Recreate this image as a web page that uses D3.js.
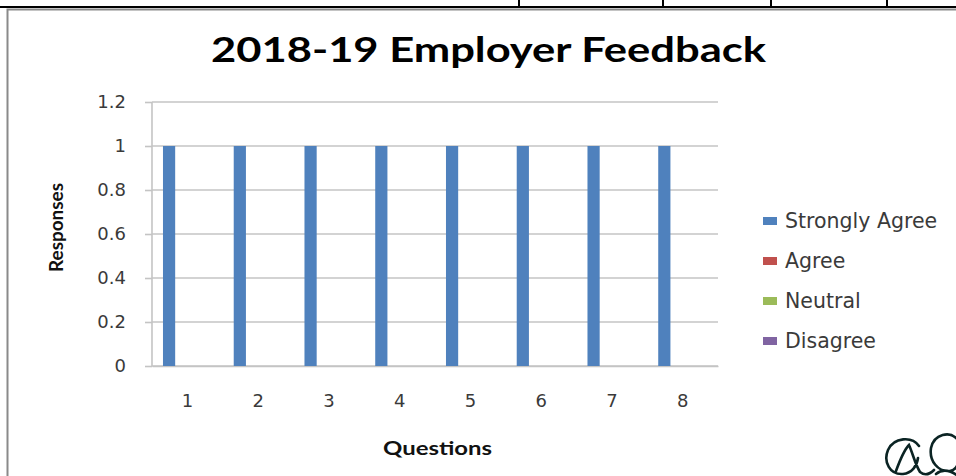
<!DOCTYPE html>
<html>
<head>
<meta charset="utf-8">
<script src="https://cdn.jsdelivr.net/npm/d3@7"></script>
<style>
  html, body { margin: 0; padding: 0; background: #fff; }
  svg { display: block; }
</style>
</head>
<body>
<svg id="chart" width="956" height="476"></svg>
<script>
// Survey results per question
const questions = ["1", "2", "3", "4", "5", "6", "7", "8"];
const seriesNames = ["Strongly Agree", "Agree", "Neutral", "Disagree"];
const seriesColors = ["#4f81bd", "#c0504d", "#9bbb59", "#8064a2"];
const stronglyAgree = [1, 1, 1, 1, 1, 1, 1, 1];
const agree = [0, 0, 0, 0, 0, 0, 0, 0];
const neutral = [0, 0, 0, 0, 0, 0, 0, 0];
const disagree = [0, 0, 0, 0, 0, 0, 0, 0];
const yTicks = [0, 0.2, 0.4, 0.6, 0.8, 1, 1.2];
const titleText = "2018-19 Employer Feedback";
const xTitle = "Questions";
const yTitle = "Responses";

const seriesValues = [stronglyAgree, agree, neutral, disagree];
const rows = questions.map((q, i) => ({
  q,
  values: seriesNames.map((s, j) => ({ s, v: seriesValues[j][i], c: seriesColors[j] }))
}));

const svg = d3.select("#chart");

// page furniture: table rule above the chart and the chart frame
svg.append("line").attr("x1", 0).attr("x2", 956).attr("y1", 7).attr("y2", 7)
  .attr("stroke", "#000").attr("stroke-width", 2);
[519, 663, 771, 887].forEach(x => {
  svg.append("line").attr("x1", x).attr("x2", x).attr("y1", 0).attr("y2", 7)
    .attr("stroke", "#000").attr("stroke-width", 2);
});
svg.append("path")
  .attr("d", "M7.5,477 L7.5,9.5 L957,9.5")
  .attr("fill", "none").attr("stroke", "#8a8a8a").attr("stroke-width", 2);

const plot = { left: 152, right: 718, top: 102, bottom: 366 };

const x = d3.scaleBand().domain(questions).range([plot.left, plot.right]).padding(0);
const xs = d3.scaleBand().domain(seriesNames).range([0, x.bandwidth()])
  .paddingInner(0).paddingOuter(0.9);
const y = d3.scaleLinear().domain([0, 1.2]).range([plot.bottom, plot.top]);

const gridColor = "#c4c4c4";

// horizontal gridlines
svg.append("g").selectAll("line").data(yTicks).join("line")
  .attr("x1", plot.left).attr("x2", plot.right)
  .attr("y1", d => y(d)).attr("y2", d => y(d))
  .attr("stroke", gridColor).attr("stroke-width", 1.6);

// y axis
const yAxis = svg.append("g")
  .attr("transform", `translate(${plot.left},0)`)
  .call(d3.axisLeft(y).tickValues(yTicks).tickSize(7).tickPadding(19)
    .tickFormat(d => d3.format("~g")(d)));
yAxis.select(".domain").attr("stroke", gridColor).attr("stroke-width", 1.6)
  .attr("d", `M0,${plot.top}V${plot.bottom}`);
yAxis.selectAll(".tick line").attr("stroke", gridColor).attr("stroke-width", 1.6);
yAxis.selectAll(".tick text")
  .attr("font-family", "DejaVu Sans").attr("font-size", 18).attr("fill", "#3a3a3a");

// x axis
const xAxis = svg.append("g")
  .attr("transform", `translate(0,${plot.bottom})`)
  .call(d3.axisBottom(x).tickSize(0).tickPadding(28));
xAxis.select(".domain").attr("stroke", gridColor).attr("stroke-width", 1.6);
xAxis.selectAll(".tick text")
  .attr("font-family", "DejaVu Sans").attr("font-size", 18).attr("fill", "#3a3a3a");

// bars
svg.append("g").selectAll("g").data(rows).join("g")
  .attr("transform", d => `translate(${x(d.q)},0)`)
  .selectAll("rect").data(d => d.values).join("rect")
  .attr("x", d => xs(d.s))
  .attr("width", xs.bandwidth())
  .attr("y", d => y(d.v))
  .attr("height", d => y(0) - y(d.v))
  .attr("fill", d => d.c);

// title
svg.append("text")
  .attr("x", 211).attr("y", 62)
  .attr("font-family", "Lato").attr("font-weight", "bold").attr("font-size", 35)
  .attr("textLength", 555).attr("lengthAdjust", "spacingAndGlyphs")
  .attr("fill", "#000")
  .text(titleText);

// axis titles
svg.append("text")
  .attr("x", 383).attr("y", 455)
  .attr("font-family", "Lato").attr("font-weight", "bold").attr("font-size", 18)
  .attr("textLength", 109).attr("lengthAdjust", "spacingAndGlyphs")
  .attr("fill", "#111")
  .text(xTitle);
svg.append("text")
  .attr("transform", "translate(63,272) rotate(-90)")
  .attr("font-family", "Lato").attr("font-weight", "bold").attr("font-size", 18)
  .attr("textLength", 89).attr("lengthAdjust", "spacingAndGlyphs")
  .attr("fill", "#111")
  .text(yTitle);

// legend
const legend = svg.append("g").attr("transform", "translate(763,221)");
const li = legend.selectAll("g").data(seriesNames).join("g")
  .attr("transform", (d, i) => `translate(0,${i * 40})`);
li.append("rect").attr("x", 0).attr("y", -4).attr("width", 14).attr("height", 8)
  .attr("fill", (d, i) => seriesColors[i]);
li.append("text").attr("x", 22).attr("y", 0).attr("dy", "0.36em")
  .attr("font-family", "DejaVu Sans").attr("font-size", 20.5).attr("fill", "#3a3a3a")
  .text(d => d);

// handwritten initials in the corner
svg.append("path")
  .attr("d", "M919,446 C912,436 894,437 888,450 C883,462 890,475 903,474 C912,473 917,466 918,458 " +
             "M896,471 C900,460 904,450 909,445 C913,454 915,464 920,472 C925,476 930,474 934,470 " +
             "M958,440 C950,430 934,434 931,448 C929,461 938,472 950,471 C955,470 958,466 958,462 " +
             "M936,474 C942,469 950,470 958,476")
  .attr("fill", "none").attr("stroke", "#0b2424").attr("stroke-width", 2.6)
  .attr("stroke-linecap", "round");
</script>
</body>
</html>
